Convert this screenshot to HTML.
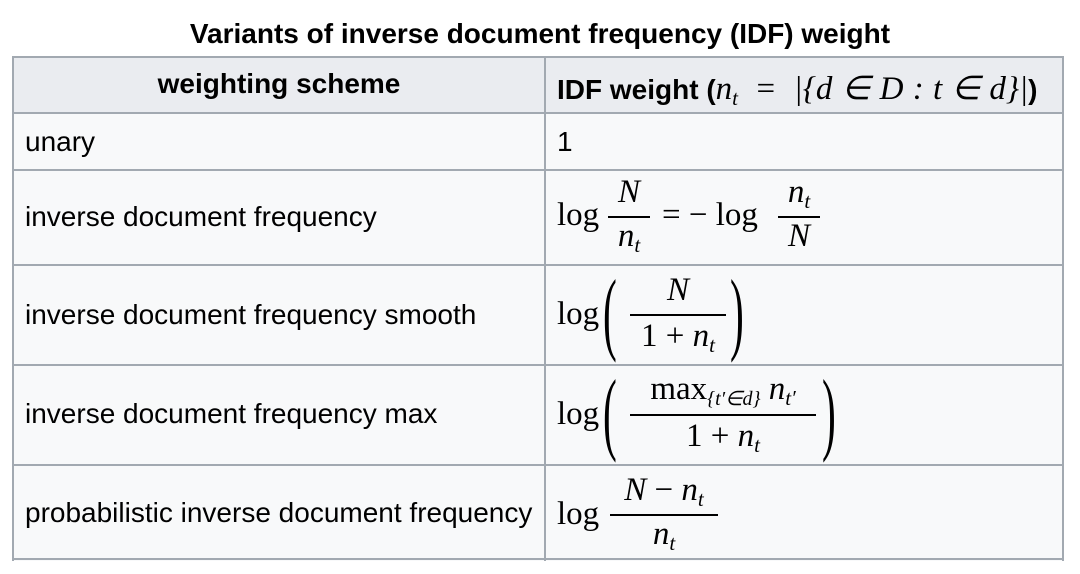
<!DOCTYPE html>
<html><head><meta charset="utf-8"><style>
body{margin:0;width:1080px;height:574px;background:#fff;position:relative;font-family:"Liberation Sans",sans-serif;color:#000;overflow:hidden}
.a{position:absolute;white-space:nowrap}
.t{font-size:28px}
.m{font-family:"Liberation Serif",serif;font-size:33px}
.i{font-style:italic}
.hl{position:absolute;left:12px;width:1052px;height:2px;background:#a2a9b1}
.vl{position:absolute;top:56px;height:505px;width:2px;background:#a2a9b1}
.fr{position:absolute;height:2px;background:#000}
sub{font-size:21px;vertical-align:-6px}
.p{position:absolute;white-space:nowrap;font-family:"Liberation Serif",serif;font-size:92px;font-weight:100;transform:scaleX(0.45);transform-origin:left;line-height:1}
</style></head><body>
<div class="a" style="left:0;width:1080px;text-align:center;top:18px;font-size:28px;font-weight:bold">Variants of inverse document frequency (IDF) weight</div>
<div>
<div style="position:absolute;left:12px;top:56px;width:1052px;height:57px;background:#eaecf0"></div>
<div style="position:absolute;left:12px;top:113px;width:1052px;height:448px;background:#f8f9fa"></div>
<div class="hl" style="top:56px"></div><div class="hl" style="top:112px"></div><div class="hl" style="top:169px"></div><div class="hl" style="top:264px"></div><div class="hl" style="top:364px"></div><div class="hl" style="top:464px"></div><div class="hl" style="top:558px"></div>
<div class="vl" style="left:12px"></div><div class="vl" style="left:544px"></div><div class="vl" style="left:1062px"></div>
<div class="a t" style="left:14px;width:530px;text-align:center;top:68px;font-weight:bold">weighting scheme</div>
<div class="a t" style="left:557px;top:68px;font-weight:bold">IDF weight (<span class="m i" style="font-weight:normal;font-size:33px;word-spacing:1px">n<sub>t</sub> <span style="font-style:normal">&nbsp;=&nbsp;</span> |{d ∈ D : t ∈ d}|</span>)</div>
<div class="a t" style="left:25px;top:126px">unary</div>
<div class="a t" style="left:557px;top:126px">1</div>
<div class="a t" style="left:25px;top:201px">inverse document frequency</div>
<div class="a t" style="left:25px;top:299px">inverse document frequency smooth</div>
<div class="a t" style="left:25px;top:398px">inverse document frequency max</div>
<div class="a t" style="left:25px;top:497px">probabilistic inverse document frequency</div>
<div>
<div class="a m" style="left:557px;top:197px">log</div>
<div class="a m i" style="left:608px;top:174px;width:42px;text-align:center">N</div>
<div class="fr" style="left:608px;top:216px;width:42px"></div>
<div class="a m i" style="left:608px;top:218px;width:42px;text-align:center">n<sub>t</sub></div>
<div class="a m" style="left:662px;top:197px">= − log</div>
<div class="a m i" style="left:778px;top:174px;width:42px;text-align:center">n<sub>t</sub></div>
<div class="fr" style="left:778px;top:216px;width:42px"></div>
<div class="a m i" style="left:778px;top:218px;width:42px;text-align:center">N</div>
</div>
<div>
<div class="a m" style="left:557px;top:296px">log</div>
<div class="p" style="left:603px;top:266px">(</div>
<div class="a m i" style="left:630px;top:272px;width:96px;text-align:center">N</div>
<div class="fr" style="left:630px;top:314px;width:96px"></div>
<div class="a m" style="left:630px;top:318px;width:96px;text-align:center">1 + <i>n</i><sub class="i">t</sub></div>
<div class="p" style="left:730px;top:266px">)</div>
</div>
<div>
<div class="a m" style="left:557px;top:396px">log</div>
<div class="p" style="left:603px;top:366px">(</div>
<div class="a m" style="left:630px;top:371px;width:186px;text-align:center">max<sub style="font-size:20px" class="i">{t′∈d}</sub> <i>n</i><sub class="i">t′</sub></div>
<div class="fr" style="left:630px;top:414px;width:186px"></div>
<div class="a m" style="left:630px;top:418px;width:186px;text-align:center">1 + <i>n</i><sub class="i">t</sub></div>
<div class="p" style="left:822px;top:366px">)</div>
</div>
<div>
<div class="a m" style="left:557px;top:496px">log</div>
<div class="a m i" style="left:610px;top:472px;width:108px;text-align:center">N <span style="font-style:normal">−</span> n<sub>t</sub></div>
<div class="fr" style="left:610px;top:514px;width:108px"></div>
<div class="a m i" style="left:610px;top:516px;width:108px;text-align:center">n<sub>t</sub></div>
</div>
</div>
</body></html>
